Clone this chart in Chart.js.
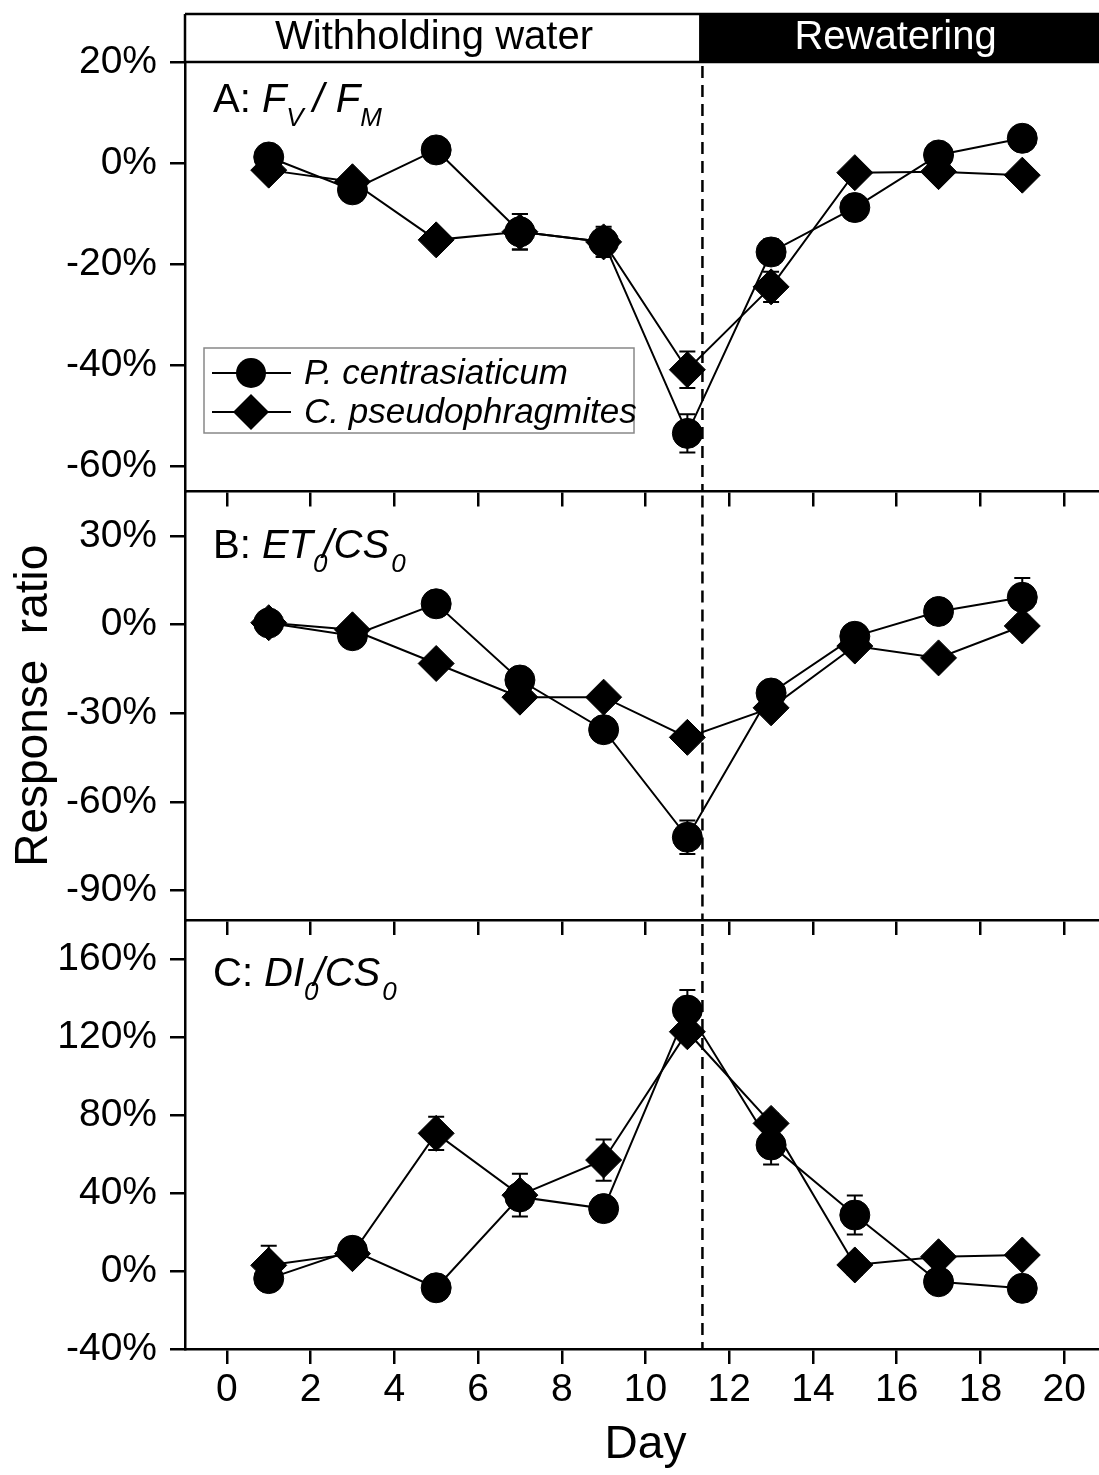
<!DOCTYPE html>
<html>
<head>
<meta charset="utf-8">
<title>Response ratio</title>
<script src="https://cdn.jsdelivr.net/npm/chart.js@4.4.0/dist/chart.umd.min.js"></script>
<style>
  body { margin: 0; background: #fff; overflow: hidden; }
  #wrap { position: relative; width: 1099px; height: 1475px; overflow: hidden; background: #fff; }
  #wrap canvas { position: absolute; left: 0; top: 0; }
</style>
</head>
<body>
<div id="wrap">
  <canvas id="panelA" width="1106" height="1475"></canvas>
  <canvas id="panelB" width="1106" height="1475"></canvas>
  <canvas id="panelC" width="1106" height="1475"></canvas>
</div>
<script>
// --- Datos ---
const days = [1, 3, 5, 7, 9, 11, 13, 15, 17, 19];
const dayTicks = [0, 2, 4, 6, 8, 10, 12, 14, 16, 18, 20];
const speciesNames = ['P. centrasiaticum', 'C. pseudophragmites'];
const phaseNames = ['Withholding water', 'Rewatering'];
const phaseSplitDay = 11.28;
const rewateringDay = 11.36;

// A: Fv/Fm
const fvfmPc = [1.2, -5.3, 2.6, -13.6, -15.6, -53.5, -17.6, -8.8, 1.6, 4.9];
const fvfmPcErr = [1, 1, 1, 3.5, 2.5, 3.8, 2.5, 2, 1, 1];
const fvfmCp = [-1.4, -3.7, -15.2, -13.6, -15.6, -40.9, -24.5, -1.9, -1.7, -2.4];
const fvfmCpErr = [1, 1, 1.5, 3.5, 3, 3.6, 3, 1.5, 1, 1];
const ticksA = [-60, -40, -20, 0, 20];

// B: ET0/CS0
const etPc = [0.5, -3.8, 7, -18.8, -35.6, -72, -23.2, -4, 4.4, 9.2];
const etPcErr = [1, 2, 1.5, 2, 2, 5.7, 2, 2, 1.5, 6.5];
const etCp = [0.6, -1.8, -13.2, -24.6, -24.6, -38.2, -28.2, -7.3, -11.3, -0.5];
const etCpErr = [1, 1.5, 2, 2, 2, 2, 2, 2, 1.5, 1.5];
const ticksB = [-90, -60, -30, 0, 30];

// C: DI0/CS0
const diPc = [-3.9, 10.6, -8.6, 38, 32, 133.8, 64.6, 28.7, -5.5, -8.9];
const diPcErr = [4, 3, 3, 5, 4, 10.3, 10, 10, 4, 3];
const diCp = [2.9, 8.9, 70.6, 38.9, 56.9, 122.7, 75.7, 3.1, 7.3, 8.2];
const diCpErr = [10, 3, 8.5, 11, 10.6, 5, 5, 5, 3, 3];
const ticksC = [-40, 0, 40, 80, 120, 160];

const FONT = "'Liberation Sans', Arial, sans-serif";

function drawMarker(ctx, style, x, y, r) {
  ctx.beginPath();
  if (style === 'circle') {
    ctx.arc(x, y, r, 0, Math.PI * 2);
  } else {
    ctx.moveTo(x - r, y);
    ctx.lineTo(x, y - r);
    ctx.lineTo(x + r, y);
    ctx.lineTo(x, y + r);
    ctx.closePath();
  }
  ctx.fill();
}

// barras de error
const errorBarsPlugin = {
  id: 'errorBars',
  afterDatasetsDraw(chart, args, opts) {
    const ctx = chart.ctx;
    const xs = chart.scales.x, ys = chart.scales.y;
    ctx.save();
    ctx.strokeStyle = '#000';
    ctx.lineWidth = 2;
    opts.errors.forEach((errs, di) => {
      chart.data.datasets[di].data.forEach((p, i) => {
        const px = xs.getPixelForValue(p.x);
        const top = ys.getPixelForValue(p.y + errs[i]);
        const bot = ys.getPixelForValue(p.y - errs[i]);
        ctx.beginPath();
        ctx.moveTo(px, top); ctx.lineTo(px, bot);
        ctx.moveTo(px - 8, top); ctx.lineTo(px + 8, top);
        ctx.moveTo(px - 8, bot); ctx.lineTo(px + 8, bot);
        ctx.stroke();
      });
    });
    ctx.restore();
  }
};

// texto con subindices
function drawRich(ctx, segs, x, y) {
  segs.forEach(s => {
    const size = s.sub ? 26 : 40;
    ctx.font = (s.it ? 'italic ' : '') + size + 'px ' + FONT;
    x += (s.dx || 0);
    ctx.fillText(s.t, x, y + (s.sub ? 14 : 0));
    x += ctx.measureText(s.t).width;
  });
}

const decorPlugin = {
  id: 'decor',
  afterDraw(chart, args, opts) {
    const ctx = chart.ctx;
    const area = chart.chartArea;
    const xs = chart.scales.x;
    ctx.save();
    ctx.fillStyle = '#000';
    ctx.textBaseline = 'alphabetic';
    ctx.textAlign = 'left';
    drawRich(ctx, opts.label, area.left + 28, area.top + opts.labelDy);

    // linea discontinua
    const dx = xs.getPixelForValue(rewateringDay);
    ctx.strokeStyle = '#000';
    ctx.lineWidth = 2.5;
    ctx.setLineDash([12, 7]);
    ctx.beginPath();
    ctx.moveTo(dx, area.top + 4);
    ctx.lineTo(dx, area.bottom);
    ctx.stroke();
    ctx.setLineDash([]);

    if (opts.header) {
      const split = xs.getPixelForValue(phaseSplitDay);
      const top = 14, bot = area.top;
      ctx.fillRect(split, top, area.right - split, bot - top);
      ctx.lineWidth = 2.5;
      ctx.beginPath();
      ctx.moveTo(area.left, top); ctx.lineTo(area.right, top);
      ctx.moveTo(area.left, top); ctx.lineTo(area.left, bot);
      ctx.moveTo(area.left, bot); ctx.lineTo(area.right, bot);
      ctx.stroke();
      ctx.font = '40px ' + FONT;
      ctx.textAlign = 'center';
      ctx.textBaseline = 'middle';
      ctx.fillText(phaseNames[0], (area.left + split) / 2 - 8, 38);
      ctx.fillStyle = '#fff';
      ctx.fillText(phaseNames[1], (split + area.right) / 2 - 7, 38);
      ctx.fillStyle = '#000';
    }

    if (opts.legend) {
      const lx = area.left + 19, ly = area.top + 286;
      ctx.strokeStyle = '#888';
      ctx.lineWidth = 1.5;
      ctx.strokeRect(lx, ly, 430, 85);
      ['circle', 'diamond'].forEach((st, i) => {
        const ry = ly + 25 + i * 39;
        ctx.strokeStyle = '#000';
        ctx.lineWidth = 2;
        ctx.beginPath();
        ctx.moveTo(lx + 8, ry); ctx.lineTo(lx + 87, ry);
        ctx.stroke();
        drawMarker(ctx, st, lx + 47, ry, st === 'circle' ? 15 : 18);
        ctx.font = 'italic 35px ' + FONT;
        ctx.textAlign = 'left';
        ctx.textBaseline = 'middle';
        ctx.fillText(speciesNames[i], lx + 100, ry + 1);
      });
    }
    ctx.restore();
  }
};

function makePanel(id, seriesP, seriesC, errP, errC, yMin, yMax, yTicks, panel) {
  const isBottom = panel.bottom;
  return new Chart(document.getElementById(id), {
    type: 'line',
    data: {
      datasets: [
        {
          label: speciesNames[0],
          data: days.map((d, i) => ({ x: d, y: seriesP[i] })),
          borderColor: '#000', backgroundColor: '#000', borderWidth: 2,
          pointStyle: 'circle', pointRadius: 15, pointBorderWidth: 1,
          tension: 0
        },
        {
          label: speciesNames[1],
          data: days.map((d, i) => ({ x: d, y: seriesC[i] })),
          borderColor: '#000', backgroundColor: '#000', borderWidth: 2,
          pointStyle: 'rectRot', pointRadius: 18, pointBorderWidth: 1,
          tension: 0
        }
      ]
    },
    options: {
      responsive: false,
      animation: false,
      events: [],
      layout: { autoPadding: false, padding: { top: panel.padTop, bottom: panel.padBottom, left: 0, right: 0 } },
      scales: {
        x: {
          type: 'linear', min: -1, max: 21,
          afterBuildTicks: s => { s.ticks = dayTicks.map(v => ({ value: v })); },
          afterFit: s => { s.height = panel.xHeight; s.paddingLeft = 0; s.paddingRight = 0; },
          border: { display: true, color: '#000', width: 2.5 },
          grid: { drawOnChartArea: false, drawTicks: true, tickLength: 15, color: '#000', lineWidth: 2.5 },
          ticks: {
            display: isBottom, color: '#000', padding: 3, maxRotation: 0,
            font: { family: FONT, size: 39 }
          },
          title: {
            display: isBottom, text: 'Day', color: '#000',
            font: { family: FONT, size: 46 }, padding: { top: 0, bottom: 2 }
          }
        },
        y: {
          min: yMin, max: yMax,
          afterBuildTicks: s => { s.ticks = yTicks.map(v => ({ value: v })); },
          afterFit: s => { s.width = 185; },
          border: { display: true, color: '#000', width: 2.5 },
          grid: { drawOnChartArea: false, drawTicks: true, tickLength: 15, color: '#000', lineWidth: 2.5 },
          ticks: {
            color: '#000', padding: 13,
            font: { family: FONT, size: 39 },
            callback: v => v + '%'
          },
          title: {
            display: !!panel.yTitle, text: 'Response  ratio', color: '#000',
            font: { family: FONT, size: 46 }, padding: { top: 7, bottom: 0 }
          }
        }
      },
      plugins: {
        legend: { display: false },
        tooltip: { enabled: false },
        errorBars: { errors: [errP, errC] },
        decor: { label: panel.label, labelDy: panel.labelDy, header: !!panel.header, legend: !!panel.legend }
      }
    },
    plugins: [errorBarsPlugin, decorPlugin]
  });
}

makePanel('panelA', fvfmPc, fvfmCp, fvfmPcErr, fvfmCpErr, -65, 20, ticksA, {
  padTop: 62, padBottom: 1475 - 491.5 - 20, xHeight: 20, header: true, legend: true, labelDy: 50,
  label: [{ t: 'A: ' }, { t: 'F', it: true }, { t: 'V', it: true, sub: true }, { t: '/', it: true, dx: 9 },
          { t: 'F', it: true, dx: 12 }, { t: 'M', it: true, sub: true }]
});
makePanel('panelB', etPc, etCp, etPcErr, etCpErr, -100, 45, ticksB, {
  padTop: 491.5, padBottom: 1475 - 920 - 20, xHeight: 20, yTitle: true, labelDy: 66,
  label: [{ t: 'B: ' }, { t: 'ET', it: true }, { t: '0', it: true, sub: true }, { t: '/CS', it: true, dx: -5 },
          { t: '0', it: true, sub: true, dx: 2 }]
});
makePanel('panelC', diPc, diCp, diPcErr, diCpErr, -40, 180, ticksC, {
  padTop: 920, padBottom: 0, xHeight: 1475 - 1349, bottom: true, labelDy: 66,
  label: [{ t: 'C: ' }, { t: 'DI', it: true }, { t: '0', it: true, sub: true }, { t: '/CS', it: true, dx: -5 },
          { t: '0', it: true, sub: true, dx: 2 }]
});
</script>
</body>
</html>
